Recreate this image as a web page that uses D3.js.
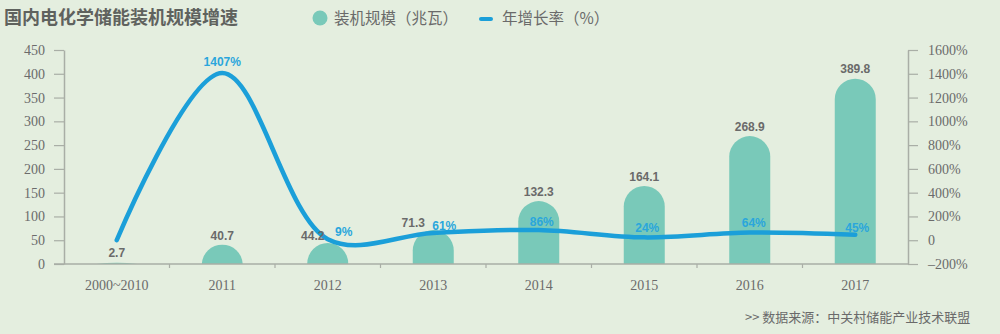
<!DOCTYPE html>
<html><head><meta charset="utf-8">
<script src="https://cdn.jsdelivr.net/npm/d3@7"></script>
<style>
html,body{margin:0;padding:0;background:#e4eedf;}
svg{display:block;}
</style></head>
<body>
<svg id="c" width="1000" height="334"></svg>
<script>
const categories = ["2000~2010","2011","2012","2013","2014","2015","2016","2017"];
const capacity = [2.7, 40.7, 44.2, 71.3, 132.3, 164.1, 268.9, 389.8];
const growth = [0, 1407, 9, 61, 86, 24, 64, 45];
const growthLabels = [null, "1407%", "9%", "61%", "86%", "24%", "64%", "45%"];
const leftTicks = [0,50,100,150,200,250,300,350,400,450];
const rightTicks = [-200,0,200,400,600,800,1000,1200,1400,1600];

const svg = d3.select("#c");
const W = 1000, H = 334;
svg.append("rect").attr("width",W).attr("height",H).attr("fill","#e4eedf");

const x0 = 64, x1 = 908, yB = 264, yT = 50;
const x = d3.scaleBand().domain(categories).range([x0,x1]);
const yL = d3.scaleLinear().domain([0,450]).range([yB,yT]);
const yR = d3.scaleLinear().domain([-200,1600]).range([yB,yT]);

const barColor = "#79c9b9", lineColor = "#1b9fd9", textGray = "#6b6b6b", axisGray = "#a9aea6";
const tickFont = "'Liberation Serif', 'DejaVu Serif', serif";

// Left axis
const gl = svg.append("g").attr("transform",`translate(${x0},0)`)
  .call(d3.axisLeft(yL).tickValues(leftTicks).tickSize(10).tickPadding(9).tickSizeOuter(0));
gl.select(".domain").attr("stroke",axisGray).attr("stroke-width",1.5);
gl.selectAll(".tick line").attr("stroke",axisGray).attr("stroke-width",1.2);
gl.selectAll(".tick text").attr("fill",textGray).style("font-family",tickFont).style("font-size","14px");

// Right axis
const gr = svg.append("g").attr("transform",`translate(${x1},0)`)
  .call(d3.axisRight(yR).tickValues(rightTicks).tickSize(10).tickPadding(10).tickSizeOuter(0)
    .tickFormat(d => d === 0 ? "0" : (d < 0 ? "\u2013" + Math.abs(d) + "%" : d + "%")));
gr.select(".domain").attr("stroke",axisGray).attr("stroke-width",1.5);
gr.selectAll(".tick line").attr("stroke",axisGray).attr("stroke-width",1.2);
gr.selectAll(".tick text").attr("fill",textGray).style("font-family",tickFont).style("font-size","14px");

// Bars (rounded tops)
function barPath(cx, w, yTop) {
  const h = yB - yTop, r = w/2;
  if (h <= 0) return "";
  if (h >= r) {
    return `M${cx-r},${yB} L${cx-r},${yTop+r} A${r},${r} 0 0 1 ${cx+r},${yTop+r} L${cx+r},${yB} Z`;
  }
  const R = (r*r + h*h) / (2*h);
  return `M${cx-r},${yB} A${R},${R} 0 0 1 ${cx+r},${yB} Z`;
}
const bw = 41;
svg.append("g").selectAll("path").data(categories).join("path")
  .attr("d",(d,i)=>barPath(x(d)+x.bandwidth()/2, bw, yL(capacity[i])))
  .attr("fill",barColor);

// X axis
const gx = svg.append("g").attr("transform",`translate(0,${yB})`)
  .call(d3.axisBottom(x).tickSize(0).tickPadding(16));
gx.select(".domain").remove();
svg.append("line").attr("x1",x0-10).attr("x2",x1).attr("y1",yB).attr("y2",yB)
  .attr("stroke",axisGray).attr("stroke-width",1.5);
svg.append("g").selectAll("line").data(categories.slice(1)).join("line")
  .attr("x1",d=>x(d)).attr("x2",d=>x(d)).attr("y1",yB).attr("y2",yB+4)
  .attr("stroke",axisGray).attr("stroke-width",1.2);
gx.selectAll(".tick text").attr("fill",textGray).style("font-family",tickFont).style("font-size","14px");

// Line
const line = d3.line()
  .x((d,i)=>x(categories[i])+x.bandwidth()/2)
  .y(d=>yR(d))
  .curve(d3.curveCatmullRom.alpha(0.5));
svg.append("path").datum(growth).attr("d",line)
  .attr("fill","none").attr("stroke",lineColor).attr("stroke-width",4.5)
  .attr("stroke-linecap","round");

// Value labels
const valDx = [0,0,-15,-20,0,0,0,0];
const valDy = [-6,-5,-3,-3,-5,-5,-5,-6];
const lblFont = "'Liberation Sans', Arial, sans-serif";
svg.append("g").selectAll("text").data(capacity).join("text")
  .attr("x",(d,i)=>x(categories[i])+x.bandwidth()/2+valDx[i])
  .attr("y",(d,i)=>yL(d)+valDy[i])
  .attr("text-anchor","middle")
  .attr("fill","#6a6a6a").style("font-family",lblFont).style("font-size","12px").style("font-weight","bold")
  .text(d=>d);

// Growth labels
const gDx = [0,0,16,11,3,3,4,2];
const gDy = [0,-7,-3,-3,-4,-5,-6,-3];
const gIdx = growth.map((d,i)=>i).filter(i=>growthLabels[i]!==null);
svg.append("g").selectAll("text").data(gIdx).join("text")
  .attr("x",i=>x(categories[i])+x.bandwidth()/2+gDx[i])
  .attr("y",i=>yR(growth[i])+gDy[i])
  .attr("text-anchor","middle")
  .attr("fill","#2aa6dc").style("font-family",lblFont).style("font-size","12px").style("font-weight","bold")
  .text(i=>growthLabels[i]);

// Title
svg.append("text").attr("x",4).attr("y",24)
  .attr("fill","#5f625e").style("font-family","'Noto Sans CJK SC', sans-serif")
  .style("font-size","18px").style("font-weight","bold")
  .text("国内电化学储能装机规模增速");

// Legend
svg.append("circle").attr("cx",320).attr("cy",18).attr("r",7.5).attr("fill",barColor);
svg.append("text").attr("x",334).attr("y",24).attr("fill","#6a6a6a")
  .style("font-family","'Noto Sans CJK SC', sans-serif").style("font-size","15.5px")
  .text("装机规模（兆瓦）");
svg.append("line").attr("x1",481).attr("x2",491).attr("y1",19).attr("y2",19)
  .attr("stroke",lineColor).attr("stroke-width",4).attr("stroke-linecap","round");
svg.append("text").attr("x",502).attr("y",24).attr("fill","#6a6a6a")
  .style("font-family","'Noto Sans CJK SC', sans-serif").style("font-size","15.5px")
  .text("年增长率（%）");

// Source
svg.append("text").attr("x",745).attr("y",322).attr("fill","#6a6a6a")
  .style("font-family","'Noto Sans CJK SC', sans-serif").style("font-size","13px")
  .text(">>  数据来源：中关村储能产业技术联盟");
</script>
</body></html>
